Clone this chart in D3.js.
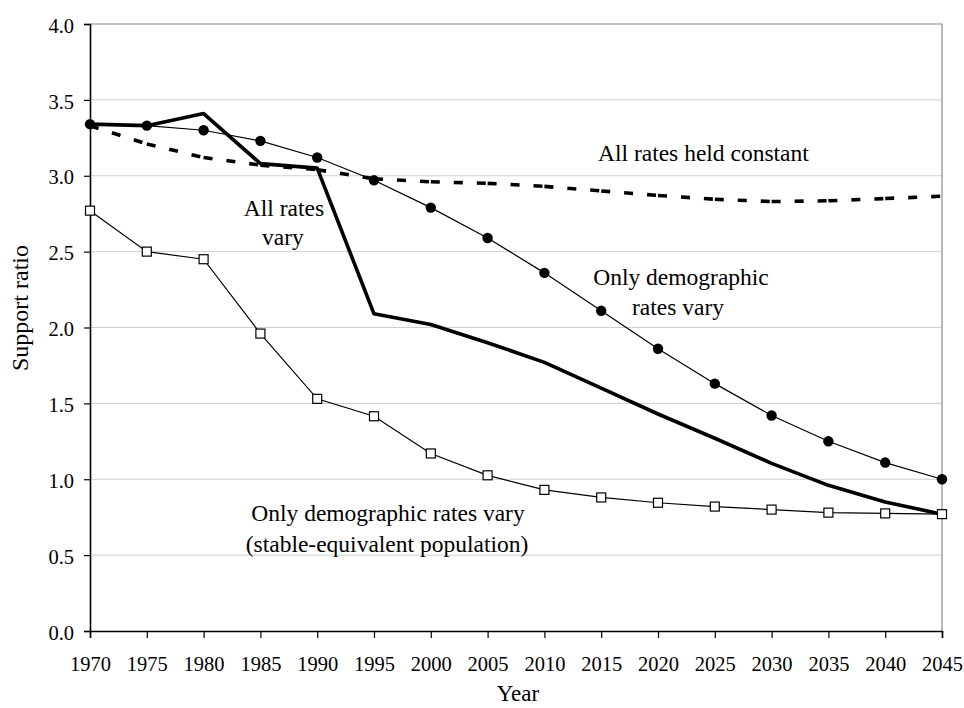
<!DOCTYPE html>
<html>
<head>
<meta charset="utf-8">
<script src="https://cdn.jsdelivr.net/npm/d3@7/dist/d3.min.js"></script>
<style>
  html, body { margin: 0; padding: 0; background: #fff; }
  svg { display: block; }
  svg text { font-family: "Liberation Serif", Tinos, "Times New Roman", Times, "DejaVu Serif", serif; fill: #000; }
</style>
</head>
<body>
<svg id="chart" width="964" height="708"></svg>
<script>
// Support ratio projections, 1970–2045
const years = [1970, 1975, 1980, 1985, 1990, 1995, 2000, 2005, 2010, 2015, 2020, 2025, 2030, 2035, 2040, 2045];

const allRatesConstant = [3.33, 3.21, 3.12, 3.07, 3.04, 2.98, 2.96, 2.95, 2.93, 2.90, 2.87, 2.845, 2.83, 2.835, 2.85, 2.865];
const allRatesVary     = [3.34, 3.33, 3.41, 3.08, 3.05, 2.09, 2.02, 1.90, 1.77, 1.60, 1.43, 1.27, 1.105, 0.96, 0.85, 0.77];
const demographicVary  = [3.34, 3.33, 3.30, 3.23, 3.12, 2.97, 2.79, 2.59, 2.36, 2.11, 1.86, 1.63, 1.42, 1.25, 1.11, 1.00];
const stableEquivalent = [2.77, 2.50, 2.45, 1.96, 1.53, 1.415, 1.17, 1.026, 0.93, 0.88, 0.845, 0.82, 0.80, 0.78, 0.775, 0.77];

const yTicks = [0, 0.5, 1, 1.5, 2, 2.5, 3, 3.5, 4];
const xTicks = years;

const FONT = "'Liberation Serif', Tinos, 'Times New Roman', Times, 'DejaVu Serif', serif";

const svg = d3.select("#chart").attr("font-family", FONT);
const plotLeft = 90, plotRight = 942, plotTop = 24, plotBottom = 631;

const x = d3.scaleLinear().domain([1970, 2045]).range([plotLeft, plotRight]);
const y = d3.scaleLinear().domain([0, 4]).range([plotBottom, plotTop]);

// horizontal gridlines
svg.append("g")
  .selectAll("line")
  .data(yTicks.filter(v => v > 0 && v < 4))
  .join("line")
  .attr("x1", plotLeft).attr("x2", plotRight)
  .attr("y1", d => y(d)).attr("y2", d => y(d))
  .attr("stroke", "#cfcfcf").attr("stroke-width", 1);

// plot frame (top and right)
svg.append("path")
  .attr("d", `M${plotLeft},${y(4)}H${plotRight}V${plotBottom}`)
  .attr("fill", "none").attr("stroke", "#8a8a8a").attr("stroke-width", 1.2);

// axes
const yAxis = d3.axisLeft(y).tickValues(yTicks).tickSize(6).tickPadding(10).tickFormat(d3.format(".1f"));
const gy = svg.append("g").attr("transform", `translate(${plotLeft},0)`).call(yAxis);
const xAxis = d3.axisBottom(x).tickValues(xTicks).tickSize(7).tickPadding(18).tickFormat(d3.format("d"));
const gx = svg.append("g").attr("transform", `translate(0,${plotBottom})`).call(xAxis);

[gy, gx].forEach(g => {
  g.attr("font-family", FONT).attr("font-size", 20.5);
  g.select(".domain").attr("stroke", "#000").attr("stroke-width", 1.6);
  g.selectAll(".tick line").attr("stroke", "#000").attr("stroke-width", 1.2);
  g.selectAll(".tick text").attr("fill", "#000");
});
gy.selectAll(".tick text").attr("dy", "0.4em");

// axis titles
svg.append("text")
  .attr("transform", `translate(28,308) rotate(-90)`)
  .attr("text-anchor", "middle")
  .attr("font-size", 24)
  .text("Support ratio");
svg.append("text")
  .attr("x", 518).attr("y", 701)
  .attr("text-anchor", "middle")
  .attr("font-size", 23)
  .text("Year");

const line = d3.line().x(d => x(d[0])).y(d => y(d[1]));
const pts = vals => years.map((yr, i) => [yr, vals[i]]);

// dashed series: pattern restarts at every vertex
const constPts = pts(allRatesConstant);
svg.append("g")
  .selectAll("path")
  .data(d3.pairs(constPts))
  .join("path")
  .attr("d", d => line(d))
  .attr("fill", "none").attr("stroke", "#000")
  .attr("stroke-width", 3.6)
  .attr("stroke-dasharray", "9,14");

// thick solid series
svg.append("path")
  .attr("d", line(pts(allRatesVary)))
  .attr("fill", "none").attr("stroke", "#000")
  .attr("stroke-width", 3.6).attr("stroke-linejoin", "round");

// demographic-only series with filled circles
svg.append("path")
  .attr("d", line(pts(demographicVary)))
  .attr("fill", "none").attr("stroke", "#000").attr("stroke-width", 1.2);
svg.append("g")
  .selectAll("circle")
  .data(pts(demographicVary))
  .join("circle")
  .attr("cx", d => x(d[0])).attr("cy", d => y(d[1]))
  .attr("r", 5.2).attr("fill", "#000");

// stable-equivalent series with open squares
svg.append("path")
  .attr("d", line(pts(stableEquivalent)))
  .attr("fill", "none").attr("stroke", "#000").attr("stroke-width", 1.2);
const sq = 9;
svg.append("g")
  .selectAll("rect")
  .data(pts(stableEquivalent))
  .join("rect")
  .attr("x", d => x(d[0]) - sq / 2).attr("y", d => y(d[1]) - sq / 2)
  .attr("width", sq).attr("height", sq)
  .attr("fill", "#fff").attr("stroke", "#000").attr("stroke-width", 1.2);

// series annotations
const notes = [
  { t: "All rates held constant", x: 598, y: 161, a: "start" },
  { t: "All rates", x: 284, y: 216, a: "middle" },
  { t: "vary", x: 283, y: 245, a: "middle" },
  { t: "Only demographic", x: 681, y: 285, a: "middle" },
  { t: "rates vary", x: 678, y: 315, a: "middle" },
  { t: "Only demographic rates vary", x: 388, y: 521, a: "middle" },
  { t: "(stable-equivalent population)", x: 387, y: 552, a: "middle" }
];
svg.append("g")
  .selectAll("text")
  .data(notes)
  .join("text")
  .attr("x", d => d.x).attr("y", d => d.y)
  .attr("text-anchor", d => d.a)
  .attr("font-size", 23.5)
  .text(d => d.t);
</script>
</body>
</html>
